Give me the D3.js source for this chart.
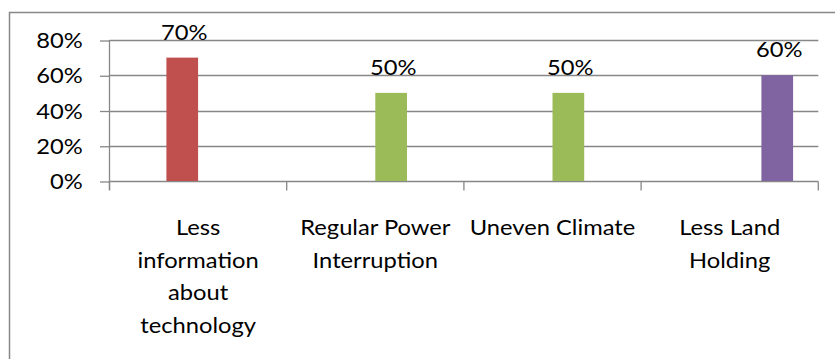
<!DOCTYPE html>
<html>
<head>
<meta charset="utf-8">
<script src="https://cdn.jsdelivr.net/npm/d3@7"></script>
<style>
  html, body { margin: 0; padding: 0; background: #fff; }
  svg { display: block; }
  text { font-family: Lato, "Open Sans", "Liberation Sans", sans-serif; fill: #000; }
</style>
</head>
<body>
<svg id="chart" width="835" height="359"></svg>
<script>
// Categories (full names) and the wrapped lines shown under the axis
const categories = [
  "Less information about technology",
  "Regular Power Interruption",
  "Uneven Climate",
  "Less Land Holding"
];
const categoryLines = [
  ["Less", "information", "about", "technology"],
  ["Regular Power", "Interruption"],
  ["Uneven Climate"],
  ["Less Land", "Holding"]
];

// Four clustered series; empty slots are null
const seriesNames = ["Series1", "Series2", "Series3", "Series4"];
const series1 = [null, null, null, null];
const series2 = [0.70, null, null, null];
const series3 = [null, 0.50, 0.50, null];
const series4 = [null, null, null, 0.60];
const seriesColors = ["#4F81BD", "#C0504D", "#9BBB59", "#8064A2"];

// Value axis ticks
const yTicks = [0, 0.2, 0.4, 0.6, 0.8];

const allSeries = [series1, series2, series3, series4];

const svg = d3.select("#chart");
const FONT = 21;      // px
const SX = 1.13;      // horizontal stretch of the text
const gridColor = "#878787";

const plot = { left: 109.5, right: 818.3, top: 40, bottom: 181 };

const x = d3.scaleBand().domain(categories).range([plot.left, plot.right]).padding(0);
const xs = d3.scaleBand().domain(seriesNames)
  .range([0, x.bandwidth()]).paddingInner(0).paddingOuter(0.795);
const y = d3.scaleLinear().domain([0, 0.8]).range([plot.bottom, plot.top]);

// Chart frame (left and top edges visible)
svg.append("rect")
  .attr("x", 9.5).attr("y", 12.5)
  .attr("width", 900).attr("height", 400)
  .attr("fill", "none").attr("stroke", "#888").attr("stroke-width", 1.5);

// Horizontal gridlines
svg.append("g").selectAll("line").data(yTicks.slice(1)).join("line")
  .attr("x1", plot.left).attr("x2", plot.right)
  .attr("y1", d => Math.round(y(d)) + 0.5).attr("y2", d => Math.round(y(d)) + 0.5)
  .attr("stroke", gridColor).attr("stroke-width", 1.3);

// Y axis
const yAxis = svg.append("g")
  .attr("transform", `translate(${plot.left},0)`)
  .call(d3.axisLeft(y).tickValues(yTicks).tickFormat(d3.format(".0%"))
        .tickSize(9.5).tickSizeOuter(0).tickPadding(17.3));
yAxis.select(".domain").remove();
yAxis.selectAll(".tick line").attr("stroke", gridColor).attr("stroke-width", 1.3)
  .attr("transform", "translate(0,0.5)");
yAxis.selectAll(".tick text")
  .attr("font-size", FONT)
  .attr("font-family", null)
  .attr("dy", "0.36em")
  .each(function () {
    const t = d3.select(this);
    t.attr("x", +t.attr("x") / SX).attr("transform", `scale(${SX},1)`);
  });
yAxis.attr("font-family", null);

// Vertical axis line (runs down through the category tick area)
svg.append("line")
  .attr("x1", plot.left).attr("x2", plot.left)
  .attr("y1", plot.top).attr("y2", plot.bottom + 9)
  .attr("stroke", gridColor).attr("stroke-width", 1.3);

// Category axis
const xAxis = svg.append("g")
  .attr("transform", `translate(0,${Math.round(plot.bottom) + 0.5})`);
xAxis.append("line")
  .attr("x1", plot.left).attr("x2", plot.right)
  .attr("stroke", gridColor).attr("stroke-width", 1.3);
const boundaries = categories.map(c => x(c)).concat([plot.right]);
xAxis.selectAll("line.tick").data(boundaries).join("line")
  .attr("class", "tick")
  .attr("x1", d => d).attr("x2", d => d)
  .attr("y1", 0).attr("y2", 9)
  .attr("stroke", gridColor).attr("stroke-width", 1.3);

// Category labels
const catG = svg.append("g");
categories.forEach((c, i) => {
  const cx = x(c) + x.bandwidth() / 2;
  categoryLines[i].forEach((line, j) => {
    catG.append("text")
      .attr("text-anchor", "middle")
      .attr("font-size", FONT)
      .attr("transform", `translate(${cx},${235 + j * 32.5}) scale(${SX},1)`)
      .text(line);
  });
});

// Bars and value labels
const bars = [];
allSeries.forEach((vals, s) => {
  vals.forEach((v, i) => {
    if (v == null) return;
    bars.push({ series: seriesNames[s], color: seriesColors[s], cat: categories[i], value: v });
  });
});

svg.append("g").selectAll("rect").data(bars).join("rect")
  .attr("x", d => x(d.cat) + xs(d.series))
  .attr("width", xs.bandwidth())
  .attr("y", d => y(d.value))
  .attr("height", d => y(0) - y(d.value))
  .attr("fill", d => d.color);

svg.append("g").selectAll("text").data(bars).join("text")
  .attr("text-anchor", "middle")
  .attr("font-size", FONT)
  .attr("transform", d => `translate(${x(d.cat) + xs(d.series) + xs.bandwidth() / 2 + 2},${y(d.value) - 18}) scale(${SX},1)`)
  .text(d => d3.format(".0%")(d.value));
</script>
</body>
</html>
